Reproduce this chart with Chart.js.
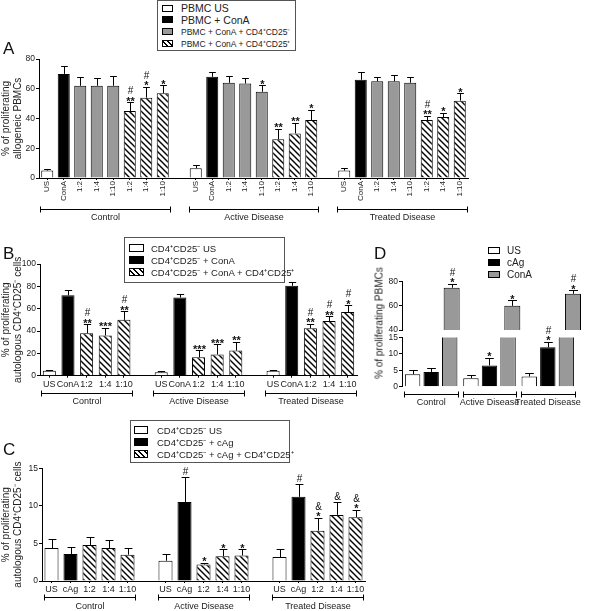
<!DOCTYPE html>
<html>
<head>
<meta charset="utf-8">
<script src="https://cdn.jsdelivr.net/npm/chart.js@4.4.1/dist/chart.umd.min.js"></script>
<style>
  html, body { margin:0; padding:0; background:#fff; }
  body { width:592px; height:611px; position:relative; overflow:hidden; font-family:'Liberation Sans', Arial, sans-serif; color:#222; }
  canvas { position:absolute; }
  .panel { position:absolute; font-size:17px; line-height:17px; color:#111; }
  .legend { position:absolute; border:1px solid #555; background:#fff; box-sizing:border-box; }
  .item { position:absolute; white-space:nowrap; display:flex; align-items:center; height:12px; }
  .sw { display:inline-block; box-sizing:border-box; border:1px solid #000; flex:none; }
  .white { background:#fff; }
  .black { background:#000; }
  .gray { background:#999; }
  .hatch { background: repeating-linear-gradient(45deg, #fff 0 2.4px, #000 2.4px 3.8px); }
  .ytitle { position:absolute; white-space:nowrap; font-size:10px; transform:translate(-50%,-50%) rotate(-90deg); }
</style>
</head>
<body>
<canvas id="cA" width="480" height="232" style="left:0;top:0"></canvas>
<canvas id="cB" width="372" height="178" style="left:0;top:232px"></canvas>
<canvas id="cC" width="380" height="199" style="left:0;top:412px"></canvas>
<canvas id="cDlow" width="222" height="111" style="left:370px;top:300px"></canvas>
<canvas id="cDup" width="222" height="110" style="left:370px;top:228px"></canvas>

<div class="panel" style="left:3px;top:40px">A</div>
<div class="panel" style="left:3px;top:245px">B</div>
<div class="panel" style="left:3px;top:441px">C</div>
<div class="panel" style="left:374px;top:245px">D</div>

<div class="legend" style="left:157px;top:0;width:139px;height:51px">
  <div class="item" style="left:4px;top:1px;font-size:10.5px"><span class="sw white" style="width:11px;height:7px;margin-right:8px"></span>PBMC US</div>
  <div class="item" style="left:4px;top:12.5px;font-size:10.5px"><span class="sw black" style="width:11px;height:7px;margin-right:8px"></span>PBMC + ConA</div>
  <div class="item" style="left:4px;top:24px;font-size:8.5px"><span class="sw gray" style="width:11px;height:7px;margin-right:8px"></span>PBMC + ConA + CD4⁺CD25⁻</div>
  <div class="item" style="left:4px;top:36px;font-size:8.5px"><span class="sw hatch" style="width:11px;height:7px;margin-right:8px"></span>PBMC + ConA + CD4⁺CD25⁺</div>
</div>

<div class="legend" style="left:124px;top:237px;width:161px;height:46px">
  <div class="item" style="left:4px;top:4px;font-size:9.5px"><span class="sw white" style="width:15px;height:8px;margin-right:7px"></span>CD4⁺CD25⁻ US</div>
  <div class="item" style="left:4px;top:16px;font-size:9.5px"><span class="sw black" style="width:15px;height:8px;margin-right:7px"></span>CD4⁺CD25⁻ + ConA</div>
  <div class="item" style="left:4px;top:28px;font-size:9.5px"><span class="sw hatch" style="width:15px;height:8px;margin-right:7px"></span>CD4⁺CD25⁻ + ConA + CD4⁺CD25⁺</div>
</div>

<div class="legend" style="left:130px;top:420px;width:160px;height:43px">
  <div class="item" style="left:3px;top:3px;font-size:9.5px"><span class="sw white" style="width:14px;height:8px;margin-right:9px"></span>CD4⁺CD25⁻ US</div>
  <div class="item" style="left:3px;top:15px;font-size:9.5px"><span class="sw black" style="width:14px;height:8px;margin-right:9px"></span>CD4⁺CD25⁻ + cAg</div>
  <div class="item" style="left:3px;top:27px;font-size:9.5px"><span class="sw hatch" style="width:14px;height:8px;margin-right:9px"></span>CD4⁺CD25⁻ + cAg + CD4⁺CD25⁺</div>
</div>

<div style="position:absolute;left:488px;top:244px">
  <div class="item" style="left:0;top:0;font-size:10px"><span class="sw white" style="width:12px;height:7px;margin-right:7px"></span>US</div>
  <div class="item" style="left:0;top:12px;font-size:10px"><span class="sw black" style="width:12px;height:7px;margin-right:7px"></span>cAg</div>
  <div class="item" style="left:0;top:24px;font-size:10px"><span class="sw gray" style="width:12px;height:7px;margin-right:7px"></span>ConA</div>
</div>

<div class="ytitle" style="left:379px;top:323px">% of proliferating PBMCs</div>

<script>
// ================= DATA =================
const GROUPS = ['Control', 'Active Disease', 'Treated Disease'];

// Panel A (allogeneic PBMCs)
const A_TICKS = ['US', 'ConA', '1:2', '1:4', '1:10', '1:2', '1:4', '1:10'];
const A_US = [5, 6.5, 5];
const A_US_ERR = [1, 2.3, 1.5];
const A_CONA = [70, 68, 66];
const A_CONA_ERR = [5.5, 3.5, 5];
const A_NEG = [[62, 62, 62], [64, 63.5, 58], [65, 65, 64]];
const A_NEG_ERR = [[6, 5.5, 6.5], [4.5, 4, 4.5], [2.7, 4, 4]];
const A_NEG_SIG = [['', '', ''], ['', '', '*'], ['', '', '']];
const A_POS = [[45, 54, 57], [26, 30, 39], [39, 41, 52]];
const A_POS_ERR = [[6, 7.5, 5.5], [7, 7, 7], [3, 3, 5]];
const A_POS_SIG = [['#\n**', '#\n*', '*'], ['**', '**', '*'], ['#\n**', '*', '*']];

// Panel B (autologous CD4+CD25- cells, ConA)
const B_TICKS = ['US', 'ConA', '1:2', '1:4', '1:10'];
const B_US = [4.5, 3, 4.5];
const B_US_ERR = [1, 1, 1];
const B_CONA = [72, 70, 80.5];
const B_CONA_ERR = [4.5, 3.5, 3];
const B_POS = [[38, 36, 50], [16.5, 19, 22.5], [42.5, 49, 57]];
const B_POS_ERR = [[8, 7, 7.5], [6.5, 9, 8], [4, 4, 6]];
const B_POS_SIG = [['#\n**', '***', '#\n**'], ['***', '***', '**'], ['#\n**', '#\n**', '#\n*']];

// Panel C (autologous CD4+CD25- cells, cAg)
const C_TICKS = ['US', 'cAg', '1:2', '1:4', '1:10'];
const C_US = [4.4, 2.7, 3.2];
const C_US_ERR = [1.2, 0.9, 1];
const C_CAG = [3.6, 10.5, 11.2];
const C_CAG_ERR = [0.9, 3.3, 1.7];
const C_CAG_SIG = ['', '#', '#'];
const C_POS = [[4.8, 4.4, 3.5], [2.2, 3.3, 3.4], [6.7, 8.8, 8.5]];
const C_POS_ERR = [[1, 1, 0.9], [0.25, 0.9, 0.8], [1.75, 1.7, 1]];
const C_POS_SIG = [['', '', ''], ['*', '*', '*'], ['&\n*', '&', '&\n*']];

// Panel D (PBMCs)
const D_US = [3.8, 2.6, 3.1];
const D_US_ERR = [1.3, 1, 1];
const D_CAG = [4.5, 6.5, 12];
const D_CAG_ERR = [1.1, 2.3, 1.7];
const D_CAG_SIG = ['', '*', '#\n*'];
const D_CONA = [75, 60, 70];
const D_CONA_ERR = [3.5, 4.7, 3];
const D_CONA_SIG = ['#\n*', '*', '#\n*'];

// ================= HELPERS =================
const FONT = "'Liberation Sans', Arial, sans-serif";
Chart.defaults.font.family = FONT;
Chart.defaults.color = '#222';

function slotLabels(ticks, n) {
  const out = [];
  for (let g = 0; g < n; g++) { out.push(...ticks); if (g < n - 1) out.push(''); }
  return out;
}
function spread(nTicks, positions, perGroup) {
  const stride = nTicks + 1;
  const out = new Array(stride * perGroup.length - 1).fill(null);
  perGroup.forEach((vals, g) => {
    (Array.isArray(vals) ? vals : [vals]).forEach((v, k) => { out[g * stride + positions[k]] = v; });
  });
  return out;
}
function hatchPattern(ctx) {
  const c = document.createElement('canvas');
  c.width = 6; c.height = 6;
  const x = c.getContext('2d');
  x.fillStyle = '#fff'; x.fillRect(0, 0, 6, 6);
  x.strokeStyle = '#000'; x.lineWidth = 1.4;
  x.beginPath();
  x.moveTo(-1, -1); x.lineTo(7, 7);
  x.moveTo(-1, 5); x.lineTo(1, 7);
  x.moveTo(5, -1); x.lineTo(7, 1);
  x.stroke();
  return ctx.createPattern(c, 'repeat');
}
function drawSig(ctx, x, yTop, text) {
  let cur = yTop - 2;
  ctx.textAlign = 'center'; ctx.textBaseline = 'alphabetic'; ctx.fillStyle = '#111';
  text.split('\n').reverse().forEach(line => {
    if (line.includes('*')) {
      ctx.font = 'bold 11px ' + FONT;
      ctx.fillText(line, x, cur + 4.5);
      cur -= 6;
    } else {
      ctx.font = '10px ' + FONT;
      ctx.fillText(line, x, cur);
      cur -= 10;
    }
  });
}
const errPlugin = {
  id: 'errbars',
  afterDatasetsDraw(chart) {
    const ctx = chart.ctx, ys = chart.scales.y;
    chart.data.datasets.forEach((ds, di) => {
      const meta = chart.getDatasetMeta(di);
      ds.data.forEach((v, i) => {
        if (v == null) return;
        if (v < ys.min || v > ys.max) return;
        const e = ds.errors ? ds.errors[i] : 0;
        const el = meta.data[i];
        if (!el) return;
        const yBar = ys.getPixelForValue(v);
        const yTop = ys.getPixelForValue(v + (e || 0));
        const xc = Math.round(el.x) + 0.5;
        const half = Math.max(3, el.width * 0.28);
        ctx.save();
        ctx.strokeStyle = '#000'; ctx.lineWidth = 1;
        if (e) {
          ctx.beginPath();
          ctx.moveTo(xc, yBar); ctx.lineTo(xc, Math.round(yTop) + 0.5);
          ctx.moveTo(xc - half, Math.round(yTop) + 0.5); ctx.lineTo(xc + half, Math.round(yTop) + 0.5);
          ctx.stroke();
        }
        const s = ds.sig ? ds.sig[i] : null;
        if (s) drawSig(ctx, xc, yTop, s);
        ctx.restore();
      });
    });
  }
};
function bracketPlugin(cfg) {
  return {
    id: 'brackets',
    afterDraw(chart) {
      const xs = chart.scales.x, ctx = chart.ctx, bottom = chart.chartArea.bottom;
      const slot = Math.abs(xs.getPixelForValue(1) - xs.getPixelForValue(0));
      ctx.save();
      ctx.strokeStyle = '#000'; ctx.lineWidth = 1; ctx.fillStyle = '#222';
      ctx.font = cfg.font; ctx.textAlign = 'center'; ctx.textBaseline = 'middle';
      cfg.groups.forEach(gr => {
        const x0 = Math.round(xs.getPixelForValue(gr.from) - slot * cfg.ext) + 0.5;
        const x1 = Math.round(xs.getPixelForValue(gr.to) + slot * cfg.ext) + 0.5;
        const y = Math.round(bottom + cfg.line) + 0.5;
        ctx.beginPath();
        ctx.moveTo(x0, y); ctx.lineTo(x1, y);
        ctx.moveTo(x0, y - 3); ctx.lineTo(x0, y + 3);
        ctx.moveTo(x1, y - 3); ctx.lineTo(x1, y + 3);
        ctx.stroke();
        if (gr.label) ctx.fillText(gr.label, (x0 + x1) / 2, bottom + cfg.text);
      });
      ctx.restore();
    }
  };
}
function groupsFor(nTicks) {
  return GROUPS.map((g, i) => ({ from: i * (nTicks + 1), to: i * (nTicks + 1) + nTicks - 1, label: g }));
}
function ds(label, data, errors, sig, color, barPct) {
  return { label, data, errors, sig, backgroundColor: color, borderColor: '#000', borderWidth: 1,
           skipNull: true, categoryPercentage: 1, barPercentage: barPct, clip: 0 };
}
function yAxis(min, max, step, width, title) {
  return {
    min, max,
    ticks: { stepSize: step, font: { size: 8.5 }, padding: 1, color: '#222' },
    grid: { display: true, drawOnChartArea: false, drawTicks: true, tickLength: 3, color: '#000' },
    border: { display: true, color: '#000', width: 1 },
    title: title ? { display: true, text: title, font: { size: 10 }, padding: { top: 0, bottom: 0 }, color: '#222' } : { display: false },
    afterFit: s => { s.width = width; }
  };
}
function xAxis(labels, height, size, rot) {
  return {
    type: 'category', offset: true,
    ticks: { autoSkip: false, maxRotation: rot, minRotation: rot, font: { size }, padding: 1, color: '#222' },
    grid: { display: true, drawOnChartArea: false, drawTicks: true, tickLength: 2, offset: false,
            color: c => labels[c.index] ? '#000' : 'rgba(0,0,0,0)' },
    border: { display: true, color: '#000', width: 1 },
    afterFit: s => { s.height = height; }
  };
}
function baseOpts(padding, scales) {
  return {
    responsive: false, animation: false, devicePixelRatio: 1,
    layout: { padding },
    plugins: { legend: { display: false }, tooltip: { enabled: false } },
    scales
  };
}

// ================= PANEL A =================
(function () {
  const labels = slotLabels(A_TICKS, 3);
  const ctx = document.getElementById('cA').getContext('2d');
  const H = hatchPattern(ctx);
  const n = A_TICKS.length, bp = 0.73;
  new Chart(ctx, {
    type: 'bar',
    data: { labels, datasets: [
      ds('PBMC US', spread(n, [0], A_US), spread(n, [0], A_US_ERR), null, '#fff', bp),
      ds('PBMC + ConA', spread(n, [1], A_CONA), spread(n, [1], A_CONA_ERR), null, '#000', bp),
      ds('PBMC + ConA + CD4⁺CD25⁻', spread(n, [2, 3, 4], A_NEG), spread(n, [2, 3, 4], A_NEG_ERR), spread(n, [2, 3, 4], A_NEG_SIG), '#999', bp),
      ds('PBMC + ConA + CD4⁺CD25⁺', spread(n, [5, 6, 7], A_POS), spread(n, [5, 6, 7], A_POS_ERR), spread(n, [5, 6, 7], A_POS_SIG), H, bp)
    ]},
    options: baseOpts({ top: 59, right: 12, bottom: 0, left: 0 }, {
      x: xAxis(labels, 54, 8, 90),
      y: yAxis(0, 80, 20, 39, ['% of proliferating', 'allogeneic PBMCs'])
    }),
    plugins: [errPlugin, bracketPlugin({ groups: groupsFor(n), ext: 0.42, line: 31, text: 40, font: '9px ' + FONT })]
  });
})();

// ================= PANEL B =================
(function () {
  const labels = slotLabels(B_TICKS, 3);
  const ctx = document.getElementById('cB').getContext('2d');
  const H = hatchPattern(ctx);
  const n = B_TICKS.length, bp = 0.7;
  new Chart(ctx, {
    type: 'bar',
    data: { labels, datasets: [
      ds('CD4⁺CD25⁻ US', spread(n, [0], B_US), spread(n, [0], B_US_ERR), null, '#fff', bp),
      ds('CD4⁺CD25⁻ + ConA', spread(n, [1], B_CONA), spread(n, [1], B_CONA_ERR), null, '#000', bp),
      ds('CD4⁺CD25⁻ + ConA + CD4⁺CD25⁺', spread(n, [2, 3, 4], B_POS), spread(n, [2, 3, 4], B_POS_ERR), spread(n, [2, 3, 4], B_POS_SIG), H, bp)
    ]},
    options: baseOpts({ top: 32, right: 15, bottom: 0, left: 0 }, {
      x: xAxis(labels, 34.3, 9, 0),
      y: yAxis(0, 100, 20, 40, ['% of proliferating', 'autologous CD4⁺CD25⁻ cells'])
    }),
    plugins: [errPlugin, bracketPlugin({ groups: groupsFor(n), ext: 0.42, line: 17.5, text: 25.5, font: '9px ' + FONT })]
  });
})();

// ================= PANEL C =================
(function () {
  const labels = slotLabels(C_TICKS, 3);
  const ctx = document.getElementById('cC').getContext('2d');
  const H = hatchPattern(ctx);
  const n = C_TICKS.length, bp = 0.74;
  new Chart(ctx, {
    type: 'bar',
    data: { labels, datasets: [
      ds('CD4⁺CD25⁻ US', spread(n, [0], C_US), spread(n, [0], C_US_ERR), null, '#fff', bp),
      ds('CD4⁺CD25⁻ + cAg', spread(n, [1], C_CAG), spread(n, [1], C_CAG_ERR), spread(n, [1], C_CAG_SIG), '#000', bp),
      ds('CD4⁺CD25⁻ + cAg + CD4⁺CD25⁺', spread(n, [2, 3, 4], C_POS), spread(n, [2, 3, 4], C_POS_ERR), spread(n, [2, 3, 4], C_POS_SIG), H, bp)
    ]},
    options: baseOpts({ top: 56.3, right: 15, bottom: 0, left: 0 }, {
      x: xAxis(labels, 30, 9, 0),
      y: yAxis(0, 15, 5, 42, ['% of proliferating', 'autologous CD4⁺CD25⁻ cells'])
    }),
    plugins: [errPlugin, bracketPlugin({ groups: groupsFor(n), ext: 0.42, line: 16.3, text: 25.7, font: '9px ' + FONT })]
  });
})();

// ================= PANEL D (broken axis: lower 0-15, upper 40-80) =================
function dDatasets() {
  const cp = 0.955, bp = 0.83;
  const mk = (label, data, errors, sig, color) => ({ label, data, errors, sig, backgroundColor: color,
    borderColor: '#000', borderWidth: 1, categoryPercentage: cp, barPercentage: bp, clip: 0 });
  return [
    mk('US', D_US, D_US_ERR, null, '#fff'),
    mk('cAg', D_CAG, D_CAG_ERR, D_CAG_SIG, '#000'),
    mk('ConA', D_CONA, D_CONA_ERR, D_CONA_SIG, '#999')
  ];
}
(function () {
  const ctx = document.getElementById('cDlow').getContext('2d');
  new Chart(ctx, {
    type: 'bar',
    data: { labels: GROUPS, datasets: dDatasets() },
    options: baseOpts({ top: 37.5, right: 8, bottom: 0, left: 0 }, {
      x: { type: 'category', offset: true,
           ticks: { autoSkip: false, maxRotation: 0, minRotation: 0, font: { size: 9 }, padding: 10, color: '#222' },
           grid: { display: false, drawTicks: false }, border: { display: false },
           afterFit: s => { s.height = 24.3; } },
      y: yAxis(0, 15, 5, 32, null)
    }),
    plugins: [errPlugin, bracketPlugin({ groups: GROUPS.map((g, i) => ({ from: i, to: i, label: '' })), ext: 0.46, line: 7.5, text: 14, font: '9px ' + FONT })]
  });
})();
(function () {
  const ctx = document.getElementById('cDup').getContext('2d');
  new Chart(ctx, {
    type: 'bar',
    data: { labels: GROUPS, datasets: dDatasets() },
    options: baseOpts({ top: 53.7, right: 8, bottom: 8, left: 0 }, {
      x: { type: 'category', offset: true, display: false },
      y: yAxis(40, 80, 20, 32, null)
    }),
    plugins: [errPlugin]
  });
})();
</script>
</body>
</html>
